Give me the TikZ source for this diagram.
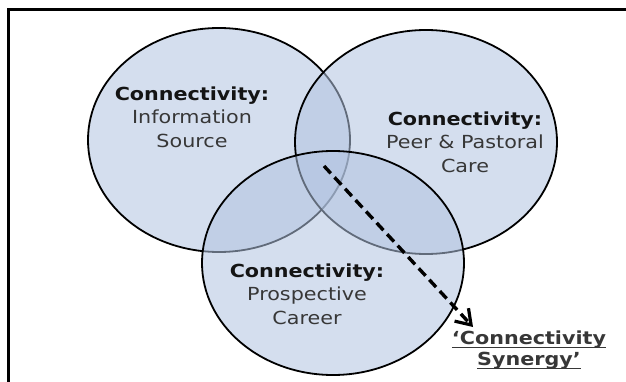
\documentclass[tikz,border=0pt]{standalone}
\usepackage{fontspec}
\setmainfont{DejaVu Sans}[FakeStretch=1.15]
\usetikzlibrary{shapes.geometric,arrows.meta}
\definecolor{vfill}{RGB}{177,195,224}
\definecolor{txtgray}{RGB}{55,55,55}
\definecolor{txtbold}{RGB}{20,20,20}
\newcommand\myul[1]{\setbox0=\hbox{#1}\rlap{\rule[-4pt]{\wd0}{1.6pt}}\box0}
\begin{document}
\begin{tikzpicture}[x=1pt,y=-1pt,
  venn/.style={ellipse, draw=black, line width=1.8pt, fill=vfill, fill opacity=0.55,
    minimum width=262pt, minimum height=224pt, inner sep=0},
  lbl/.style={align=center, text=txtgray, font=\fontsize{18}{23.5}\selectfont, inner sep=0},
  frameline/.style={line width=3pt, black, line join=miter},
  synline/.style={line width=3.4pt, dash pattern=on 10pt off 5.5pt, shorten >=4pt},
  syntip/.style={line width=3pt, -{Straight Barb[length=14pt,width=19pt,line width=3.2pt]}}]
\useasboundingbox (0,0) rectangle (626,382);
\node[venn] (info) at (219,140) {};
\node[venn] (peer) at (426,142) {};
\node[venn] (career) at (333,263) {};
\coordinate (fa) at (8.5,382);
\coordinate (fb) at (8.5,9.5);
\coordinate (fc) at (626,9.5);
\draw[frameline] (fa) -- (fb) -- (fc);
\node[lbl] (tinfo) at (192,117) {\textcolor{txtbold}{\textbf{Connectivity:}}\\Information\\Source};
\node[lbl] (tpeer) at (465,142) {\textcolor{txtbold}{\textbf{Connectivity:}}\\Peer \& Pastoral\\Care};
\node[lbl] (tcareer) at (307,294) {\textcolor{txtbold}{\textbf{Connectivity:}}\\Prospective\\Career};
\coordinate (s) at (324,166);
\coordinate (e) at (473,327);
\coordinate (e2) at (470.3,324.1);
\draw[synline] (s) -- (e);
\draw[syntip] (e2) -- (e);
\node[lbl, text=txtgray, font=\fontsize{18}{21}\selectfont\bfseries] (syn) at (529,350) {\myul{‘Connectivity}\\\myul{Synergy’}};
\end{tikzpicture}
\end{document}
